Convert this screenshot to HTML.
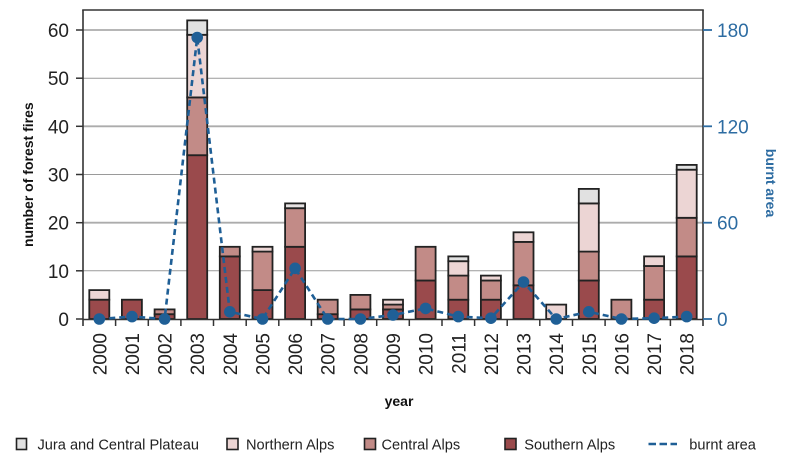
<!DOCTYPE html>
<html><head><meta charset="utf-8"><style>
html,body{margin:0;padding:0;background:#fff;}
svg{display:block;}
text{font-family:"Liberation Sans",sans-serif;}
</style></head><body>
<svg width="800" height="467" viewBox="0 0 800 467" xmlns="http://www.w3.org/2000/svg">
<!-- gridlines -->
<g stroke="#9a9a9a" stroke-width="1">
<line x1="83" y1="270.8" x2="703" y2="270.8"/>
<line x1="83" y1="174.5" x2="703" y2="174.5"/>
<line x1="83" y1="78.2" x2="703" y2="78.2"/>
</g>
<g stroke="#acacac" stroke-width="1.8">
<line x1="83" y1="222.7" x2="703" y2="222.7"/>
<line x1="83" y1="126.3" x2="703" y2="126.3"/>
<line x1="83" y1="30" x2="703" y2="30"/>
</g>
<!-- bars -->
<g stroke="#222" stroke-width="1.8">
<!-- 2000 -->
<rect x="89.3" y="299.7" width="20" height="19.3" fill="#9a4a4c"/>
<rect x="89.3" y="290.1" width="20" height="9.6" fill="#ecd5d4"/>
<!-- 2001 -->
<rect x="121.9" y="299.7" width="20" height="19.3" fill="#9a4a4c"/>
<!-- 2002 -->
<rect x="154.6" y="314.2" width="20" height="4.8" fill="#9a4a4c"/>
<rect x="154.6" y="309.4" width="20" height="4.8" fill="#c28b87"/>
<!-- 2003 -->
<rect x="187.2" y="155.2" width="20" height="163.8" fill="#9a4a4c"/>
<rect x="187.2" y="97.4" width="20" height="57.8" fill="#c28b87"/>
<rect x="187.2" y="34.8" width="20" height="62.6" fill="#ecd5d4"/>
<rect x="187.2" y="20.4" width="20" height="14.4" fill="#e1e1e1"/>
<!-- 2004 -->
<rect x="219.8" y="256.4" width="20" height="62.6" fill="#9a4a4c"/>
<rect x="219.8" y="246.8" width="20" height="9.6" fill="#c28b87"/>
<!-- 2005 -->
<rect x="252.5" y="290.1" width="20" height="28.9" fill="#9a4a4c"/>
<rect x="252.5" y="251.6" width="20" height="38.5" fill="#c28b87"/>
<rect x="252.5" y="246.8" width="20" height="4.8" fill="#ecd5d4"/>
<!-- 2006 -->
<rect x="285.1" y="246.8" width="20" height="72.2" fill="#9a4a4c"/>
<rect x="285.1" y="208.2" width="20" height="38.6" fill="#c28b87"/>
<rect x="285.1" y="203.4" width="20" height="4.8" fill="#e6e2e2"/>
<!-- 2007 -->
<rect x="317.7" y="314.2" width="20" height="4.8" fill="#9a4a4c"/>
<rect x="317.7" y="299.7" width="20" height="14.5" fill="#c28b87"/>
<!-- 2008 -->
<rect x="350.4" y="309.4" width="20" height="9.6" fill="#9a4a4c"/>
<rect x="350.4" y="294.9" width="20" height="14.5" fill="#c28b87"/>
<!-- 2009 -->
<rect x="383.0" y="309.4" width="20" height="9.6" fill="#9a4a4c"/>
<rect x="383.0" y="304.6" width="20" height="4.8" fill="#c28b87"/>
<rect x="383.0" y="299.7" width="20" height="4.9" fill="#ecd5d4"/>
<!-- 2010 -->
<rect x="415.6" y="280.5" width="20" height="38.5" fill="#9a4a4c"/>
<rect x="415.6" y="246.8" width="20" height="33.7" fill="#c28b87"/>
<!-- 2011 -->
<rect x="448.3" y="299.7" width="20" height="19.3" fill="#9a4a4c"/>
<rect x="448.3" y="275.6" width="20" height="24.1" fill="#c28b87"/>
<rect x="448.3" y="261.2" width="20" height="14.4" fill="#ecd5d4"/>
<rect x="448.3" y="256.4" width="20" height="4.8" fill="#e1e1e1"/>
<!-- 2012 -->
<rect x="480.9" y="299.7" width="20" height="19.3" fill="#9a4a4c"/>
<rect x="480.9" y="280.5" width="20" height="19.2" fill="#c28b87"/>
<rect x="480.9" y="275.6" width="20" height="4.9" fill="#ecd5d4"/>
<!-- 2013 -->
<rect x="513.5" y="285.3" width="20" height="33.7" fill="#9a4a4c"/>
<rect x="513.5" y="241.9" width="20" height="43.4" fill="#c28b87"/>
<rect x="513.5" y="232.3" width="20" height="9.6" fill="#ecd5d4"/>
<!-- 2014 -->
<rect x="546.2" y="304.6" width="20" height="14.4" fill="#ecd5d4"/>
<!-- 2015 -->
<rect x="578.8" y="280.5" width="20" height="38.5" fill="#9a4a4c"/>
<rect x="578.8" y="251.6" width="20" height="28.9" fill="#c28b87"/>
<rect x="578.8" y="203.4" width="20" height="48.2" fill="#ecd5d4"/>
<rect x="578.8" y="188.9" width="20" height="14.5" fill="#e1e1e1"/>
<!-- 2016 -->
<rect x="611.4" y="299.7" width="20" height="19.3" fill="#c28b87"/>
<!-- 2017 -->
<rect x="644.1" y="299.7" width="20" height="19.3" fill="#9a4a4c"/>
<rect x="644.1" y="266.0" width="20" height="33.7" fill="#c28b87"/>
<rect x="644.1" y="256.4" width="20" height="9.6" fill="#ecd5d4"/>
<!-- 2018 -->
<rect x="676.7" y="256.4" width="20" height="62.6" fill="#9a4a4c"/>
<rect x="676.7" y="217.8" width="20" height="38.6" fill="#c28b87"/>
<rect x="676.7" y="169.7" width="20" height="48.1" fill="#ecd5d4"/>
<rect x="676.7" y="164.9" width="20" height="4.8" fill="#e1e1e1"/>
</g>
<!-- frame -->
<g stroke="#333" stroke-width="1.6" fill="none">
<line x1="82.2" y1="10" x2="703.8" y2="10"/>
<line x1="83" y1="10" x2="83" y2="326"/>
<line x1="703" y1="10" x2="703" y2="326"/>
<line x1="83" y1="319.5" x2="703" y2="319.5"/>
</g>
<!-- x ticks -->
<g stroke="#333" stroke-width="1.5">
<line x1="115.6" y1="319" x2="115.6" y2="326"/><line x1="148.3" y1="319" x2="148.3" y2="326"/>
<line x1="180.9" y1="319" x2="180.9" y2="326"/><line x1="213.5" y1="319" x2="213.5" y2="326"/>
<line x1="246.2" y1="319" x2="246.2" y2="326"/><line x1="278.8" y1="319" x2="278.8" y2="326"/>
<line x1="311.4" y1="319" x2="311.4" y2="326"/><line x1="344.1" y1="319" x2="344.1" y2="326"/>
<line x1="376.7" y1="319" x2="376.7" y2="326"/><line x1="409.3" y1="319" x2="409.3" y2="326"/>
<line x1="442.0" y1="319" x2="442.0" y2="326"/><line x1="474.6" y1="319" x2="474.6" y2="326"/>
<line x1="507.2" y1="319" x2="507.2" y2="326"/><line x1="539.8" y1="319" x2="539.8" y2="326"/>
<line x1="572.5" y1="319" x2="572.5" y2="326"/><line x1="605.1" y1="319" x2="605.1" y2="326"/>
<line x1="637.7" y1="319" x2="637.7" y2="326"/><line x1="670.4" y1="319" x2="670.4" y2="326"/>
</g>
<!-- left ticks -->
<g stroke="#333" stroke-width="1.5">
<line x1="76" y1="319" x2="83" y2="319"/><line x1="76" y1="270.8" x2="83" y2="270.8"/>
<line x1="76" y1="222.7" x2="83" y2="222.7"/><line x1="76" y1="174.5" x2="83" y2="174.5"/>
<line x1="76" y1="126.3" x2="83" y2="126.3"/><line x1="76" y1="78.2" x2="83" y2="78.2"/>
<line x1="76" y1="30" x2="83" y2="30"/>
</g>
<!-- right ticks -->
<g stroke="#2d6ca2" stroke-width="1.8">
<line x1="703" y1="319" x2="712" y2="319"/><line x1="703" y1="222.7" x2="712" y2="222.7"/>
<line x1="703" y1="126.3" x2="712" y2="126.3"/><line x1="703" y1="30" x2="712" y2="30"/>
</g>
<!-- burnt area line -->
<polyline fill="none" stroke="#1f5f96" stroke-width="2.6" stroke-dasharray="6 4"
 points="99.3,319 132.0,316.6 164.6,319 197.2,37.5 229.8,311.8 262.5,319 295.1,268.3 327.7,319 360.4,319 393.0,315.0 425.6,308.4 458.3,316.6 490.9,318.2 523.5,282.0 556.2,319 588.8,311.8 621.4,319 654.1,318.2 686.7,316.6"/>
<g fill="#1f5f96">
<circle cx="99.3" cy="319" r="5.8"/><circle cx="132.0" cy="316.6" r="5.8"/>
<circle cx="164.6" cy="319" r="5.8"/><circle cx="197.2" cy="37.5" r="5.8"/>
<circle cx="229.8" cy="311.8" r="5.8"/><circle cx="262.5" cy="319" r="5.8"/>
<circle cx="295.1" cy="268.3" r="5.8"/><circle cx="327.7" cy="319" r="5.8"/>
<circle cx="360.4" cy="319" r="5.8"/><circle cx="393.0" cy="315.0" r="5.8"/>
<circle cx="425.6" cy="308.4" r="5.8"/><circle cx="458.3" cy="316.6" r="5.8"/>
<circle cx="490.9" cy="318.2" r="5.8"/><circle cx="523.5" cy="282.0" r="5.8"/>
<circle cx="556.2" cy="319" r="5.8"/><circle cx="588.8" cy="311.8" r="5.8"/>
<circle cx="621.4" cy="319" r="5.8"/><circle cx="654.1" cy="318.2" r="5.8"/>
<circle cx="686.7" cy="316.6" r="5.8"/>
</g>
<!-- left labels -->
<g font-size="19" fill="#222" text-anchor="end">
<text x="69" y="326">0</text><text x="69" y="277.8">10</text>
<text x="69" y="229.7">20</text><text x="69" y="181.5">30</text>
<text x="69" y="133.3">40</text><text x="69" y="85.2">50</text>
<text x="69" y="37">60</text>
</g>
<!-- right labels -->
<g font-size="19" fill="#2d6ca2">
<text x="717" y="326">0</text><text x="717" y="229.7">60</text>
<text x="717" y="133.3">120</text><text x="717" y="37">180</text>
</g>
<!-- x labels -->
<g font-size="19" fill="#222" text-anchor="end">
<text transform="translate(106.3,333) rotate(-90)">2000</text>
<text transform="translate(139.0,333) rotate(-90)">2001</text>
<text transform="translate(171.6,333) rotate(-90)">2002</text>
<text transform="translate(204.2,333) rotate(-90)">2003</text>
<text transform="translate(236.8,333) rotate(-90)">2004</text>
<text transform="translate(269.5,333) rotate(-90)">2005</text>
<text transform="translate(302.1,333) rotate(-90)">2006</text>
<text transform="translate(334.7,333) rotate(-90)">2007</text>
<text transform="translate(367.4,333) rotate(-90)">2008</text>
<text transform="translate(400.0,333) rotate(-90)">2009</text>
<text transform="translate(432.6,333) rotate(-90)">2010</text>
<text transform="translate(465.3,333) rotate(-90)">2011</text>
<text transform="translate(497.9,333) rotate(-90)">2012</text>
<text transform="translate(530.5,333) rotate(-90)">2013</text>
<text transform="translate(563.2,333) rotate(-90)">2014</text>
<text transform="translate(595.8,333) rotate(-90)">2015</text>
<text transform="translate(628.4,333) rotate(-90)">2016</text>
<text transform="translate(661.1,333) rotate(-90)">2017</text>
<text transform="translate(693.7,333) rotate(-90)">2018</text>
</g>
<!-- axis titles -->
<text x="399" y="406" font-size="14" font-weight="bold" fill="#111" text-anchor="middle">year</text>
<text transform="translate(33,174.7) rotate(-90)" font-size="14" font-weight="bold" fill="#111" text-anchor="middle">number of forest fires</text>
<text transform="translate(766,183) rotate(90)" font-size="14" font-weight="bold" fill="#2d6ca2" text-anchor="middle">burnt area</text>
<!-- legend -->
<g stroke="#222" stroke-width="1.6">
<rect x="16.5" y="438.5" width="10" height="11" fill="#e1e1e1"/>
<rect x="227" y="438.5" width="11" height="11" fill="#ecd5d4"/>
<rect x="364.5" y="438.5" width="11" height="11" fill="#c28b87"/>
<rect x="505" y="438.5" width="11" height="11" fill="#9a4a4c"/>
</g>
<line x1="648.5" y1="444" x2="677" y2="444" stroke="#1f5f96" stroke-width="2.6" stroke-dasharray="7.5 3.5"/>
<g font-size="14.6" fill="#222">
<text x="37.5" y="449.5">Jura and Central Plateau</text>
<text x="246" y="449.5">Northern Alps</text>
<text x="381.5" y="449.5">Central Alps</text>
<text x="524.3" y="449.5">Southern Alps</text>
<text x="689.3" y="449.5">burnt area</text>
</g>
</svg>
</body></html>
